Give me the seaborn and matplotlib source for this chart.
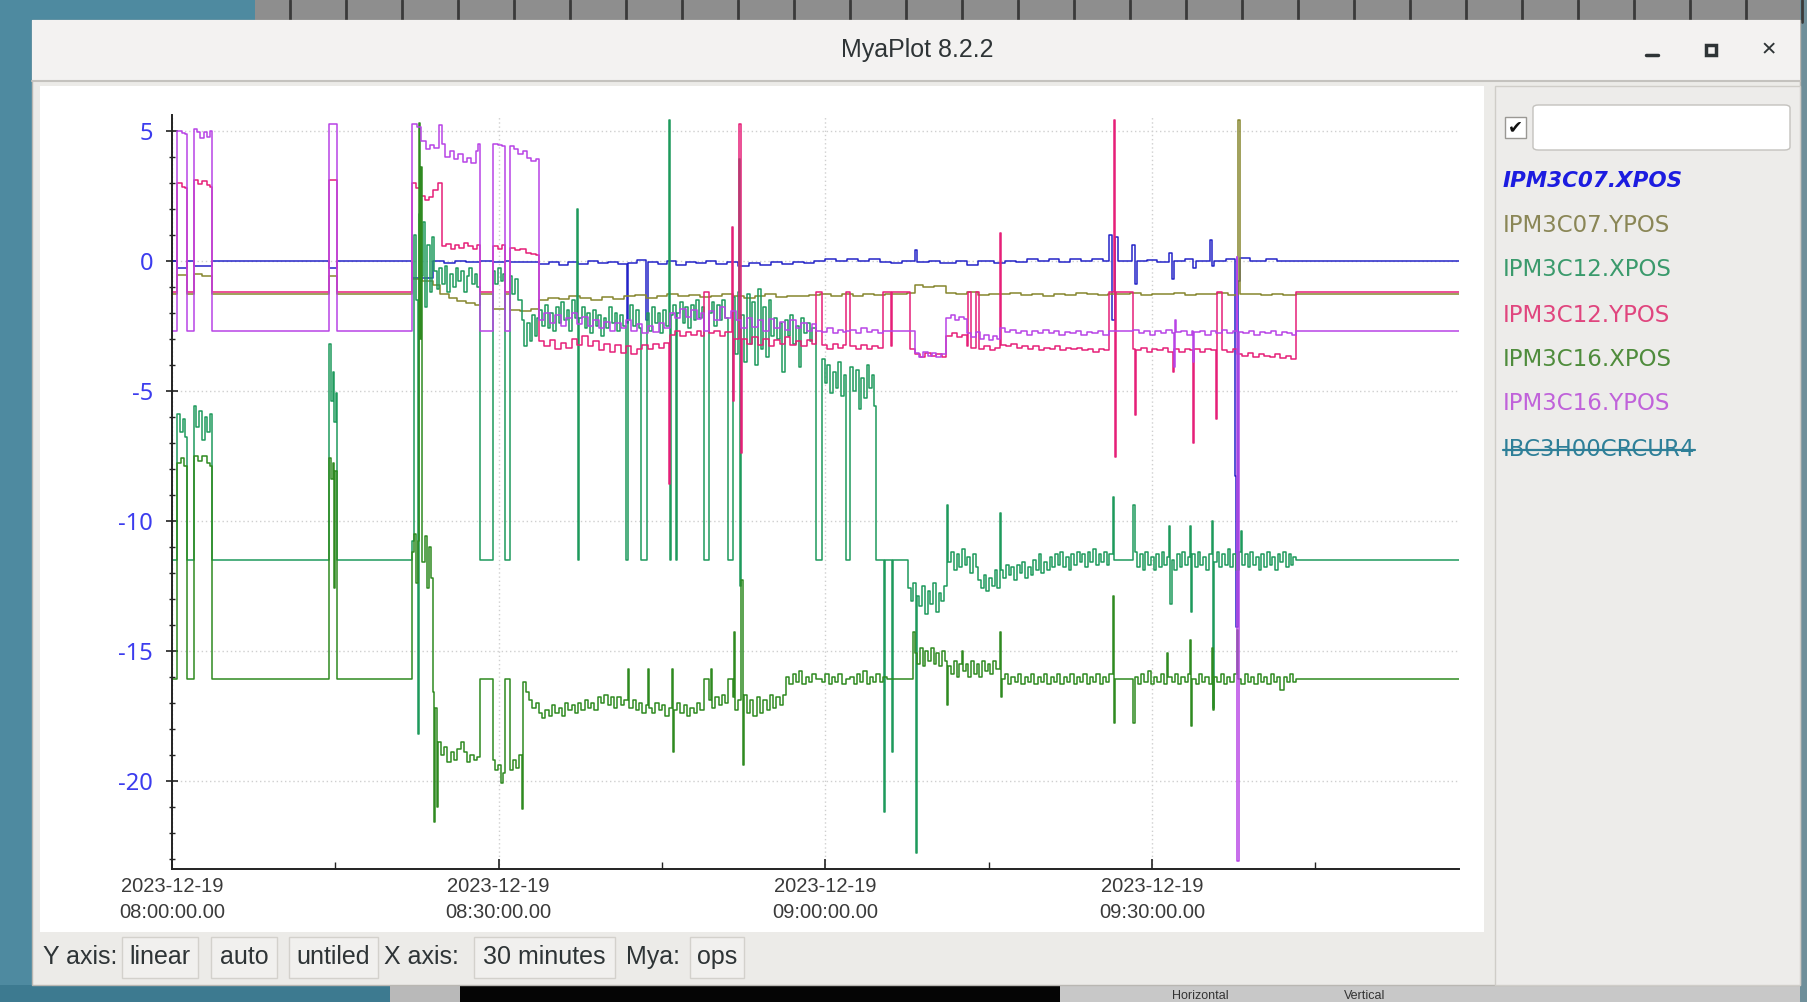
import numpy as np
import pandas as pd
import matplotlib
matplotlib.use("Agg")
import matplotlib.pyplot as plt
import matplotlib.dates as mdates
from matplotlib.patches import Rectangle, FancyBboxPatch
from matplotlib.lines import Line2D
from matplotlib.ticker import FixedLocator
import seaborn as sns

START = pd.Timestamp("2023-12-19 08:00:00")

# (minutes after 08:00, value)
ipm3c07_x = [
    (0.0, 0.0), (0.5, -0.28), (1.4, 0.0), (2.0, -0.22), (3.65, 0.0), (14.45, -0.3), (15.15, 0.0),
    (22.0, -0.65), (24.0, -0.02), (25.0, -0.08), (26.0, 0.0), (27.0, -0.06), (28.3, 0.0),
    (29.45, -0.05), (30.6, 0.0), (31.0, -0.04), (33.75, -0.12), (34.6, -0.05), (35.5, -0.15),
    (36.4, -0.05), (37.3, -0.12), (38.2, -0.02), (39.1, -0.1), (40.0, -0.04), (41.0, -0.12),
    (41.75, -2.4), (41.9, -0.08), (42.7, 0.02), (43.55, -2.3), (43.7, -0.05), (44.6, -0.12),
    (45.5, -0.02), (46.3, -0.15), (47.2, -0.05), (48.1, -0.1), (49.0, 0.0), (50.0, -0.12),
    (51.0, -0.05), (52.0, -0.2), (53.0, -0.08), (54.0, -0.15), (55.0, -0.05), (56.0, -0.12),
    (57.0, -0.04), (58.0, -0.1), (59.0, 0.0), (60.0, 0.05), (61.0, -0.02), (62.0, 0.06),
    (63.0, -0.03), (64.0, 0.05), (65.0, -0.04), (66.0, -0.1), (67.0, -0.02), (68.2, 0.4),
    (68.4, -0.05), (69.5, 0.0), (70.5, -0.08), (72.0, 0.0), (73.0, -0.15), (74.0, 0.0),
    (75.5, -0.1), (76.5, 0.0), (77.5, -0.05), (78.5, 0.08), (79.5, -0.02), (80.5, 0.06),
    (81.5, -0.04), (82.5, 0.05), (83.5, -0.03), (84.5, 0.06), (85.5, -0.02), (86.1, 1.0),
    (86.3, -2.3), (86.6, 0.9), (86.9, 0.0), (88.2, 0.6), (88.4, -0.9), (88.6, 0.0), (89.5, 0.04),
    (90.5, -0.05), (91.6, 0.3), (91.8, -0.7), (92.0, 0.0), (93.0, 0.05), (93.8, -0.3), (94.0, 0.0),
    (95.3, 0.8), (95.5, -0.2), (95.7, 0.0), (96.8, 0.05), (97.6, -8.3), (97.75, -14.1),
    (97.9, -0.8), (98.1, 0.1), (99.0, 0.0), (100.5, 0.05), (101.5, -0.02), (103.2, 0.0), (118.2, 0.0),
]

ipm3c07_y = [
    (0.0, -1.3), (0.5, -0.55), (1.4, -1.3), (2.0, -0.5), (2.8, -0.6), (3.65, -1.3), (14.45, -0.6),
    (15.15, -1.3), (22.0, -0.72), (23.0, -0.78), (24.0, -0.95), (24.6, -1.3), (25.4, -1.45),
    (26.2, -1.55), (27.0, -1.62), (27.8, -1.7), (28.3, -1.3), (29.45, -1.85), (30.6, -1.3),
    (31.0, -1.9), (32.0, -1.95), (33.0, -1.88), (33.75, -1.5), (34.5, -1.42), (35.5, -1.48),
    (36.5, -1.35), (37.5, -1.45), (38.5, -1.5), (39.5, -1.4), (40.5, -1.46), (41.5, -1.38),
    (42.5, -1.33), (43.5, -1.42), (44.5, -1.36), (45.5, -1.3), (46.5, -1.38), (47.5, -1.32),
    (48.5, -1.4), (49.5, -1.35), (50.5, -1.3), (51.5, -1.38), (52.5, -1.45), (53.5, -1.36),
    (54.5, -1.3), (55.5, -1.4), (56.5, -1.35), (57.5, -1.38), (58.5, -1.32), (59.5, -1.28),
    (60.5, -1.35), (61.5, -1.3), (62.5, -1.37), (63.5, -1.3), (64.5, -1.33), (65.5, -1.28),
    (66.5, -1.3), (67.5, -1.25), (68.2, -0.95), (69.0, -1.0), (70.0, -0.97), (71.1, -1.25),
    (72.0, -1.3), (73.0, -1.22), (74.0, -1.32), (75.0, -1.28), (76.0, -1.3), (77.0, -1.26),
    (78.0, -1.33), (79.0, -1.27), (80.0, -1.35), (81.0, -1.28), (82.0, -1.32), (83.0, -1.26),
    (84.0, -1.3), (85.0, -1.34), (86.0, -1.27), (87.0, -1.3), (88.0, -1.25), (89.0, -1.32),
    (90.0, -1.28), (91.0, -1.3), (92.0, -1.26), (93.0, -1.33), (94.0, -1.28), (95.0, -1.3),
    (96.0, -1.26), (97.0, -1.32), (97.9, 5.4), (98.05, -1.3), (99.0, -1.27), (100.0, -1.33),
    (101.0, -1.28), (102.0, -1.31), (103.2, -1.3), (118.2, -1.3),
]

ipm3c12_x = [
    (0.0, -11.5), (0.5, -5.9), (0.75, -6.6), (1.0, -6.1), (1.2, -6.8), (1.4, -11.5),
    (2.0, -5.6), (2.25, -6.4), (2.5, -5.8), (2.75, -6.9), (3.0, -6.0), (3.25, -6.6), (3.45, -5.9),
    (3.65, -11.5), (14.45, -3.2), (14.6, -5.4), (14.75, -4.3), (14.9, -6.2), (15.05, -5.1),
    (15.15, -11.5), (22.0, -10.8), (22.2, 1.0), (22.4, -1.5), (22.55, -18.2), (22.65, 1.8),
    (22.85, -0.6), (23.05, 1.5), (23.25, -1.8), (23.45, 0.6), (23.65, -1.2), (23.85, 0.9),
    (24.05, -0.4), (24.3, -1.1), (24.55, -0.3), (24.8, -0.9), (25.05, -0.2), (25.3, -1.2),
    (25.55, -0.5), (25.8, -1.0), (26.05, -0.3), (26.3, -0.8), (26.55, -0.4), (26.8, -1.2),
    (27.05, -0.6), (27.3, -0.3), (27.55, -0.9), (27.8, -0.5), (28.05, -1.0), (28.3, -11.5),
    (29.45, -0.4), (29.7, -0.9), (29.95, -0.3), (30.2, -0.8), (30.4, -0.5), (30.6, -11.5),
    (31.0, -0.6), (31.25, -1.3), (31.5, -0.7), (31.75, -1.5), (32.1, -2.3), (32.35, -3.3),
    (32.6, -2.4), (32.85, -3.1), (33.1, -2.1), (33.35, -2.9), (33.55, -2.2), (33.75, -1.9),
    (34.0, -2.5), (34.25, -1.7), (34.5, -2.6), (34.75, -2.0), (35.0, -2.7), (35.25, -1.8),
    (35.5, -2.4), (35.75, -1.6), (36.0, -2.3), (36.25, -1.9), (36.5, -2.7), (36.75, -1.5),
    (37.0, -2.2), (37.2, 2.0), (37.3, -11.5), (37.4, -2.2), (37.65, -1.8), (37.9, -2.6),
    (38.15, -2.0), (38.4, -2.8), (38.65, -1.9), (38.9, -2.5), (39.15, -2.1), (39.4, -2.9),
    (39.65, -2.2), (39.9, -2.6), (40.15, -1.8), (40.4, -2.4), (40.65, -2.0), (40.9, -2.7),
    (41.15, -2.1), (41.4, -2.5), (41.7, -11.5), (41.85, -2.3), (42.1, -1.7), (42.35, -2.5),
    (42.6, -1.9), (42.85, -2.6), (43.1, -11.5), (43.6, -2.0), (43.85, -2.7), (44.1, -1.8),
    (44.35, -2.4), (44.6, -2.0), (44.85, -2.8), (45.1, -1.9), (45.35, -2.5), (45.6, 5.4),
    (45.7, -11.5), (45.8, -2.1), (46.05, -1.7), (46.3, -11.5), (46.4, -2.0), (46.65, -1.6),
    (46.9, -2.4), (47.15, -1.8), (47.4, -2.6), (47.65, -1.7), (47.9, -2.3), (48.15, -1.5),
    (48.4, -2.2), (48.65, -1.8), (48.9, -11.5), (49.3, -2.0), (49.55, -1.6), (49.8, -2.5),
    (50.05, -1.7), (50.3, -2.3), (50.55, -1.5), (50.8, -2.2), (51.1, -11.5), (51.5, -1.4),
    (51.75, -3.6), (52.0, -1.2), (52.1, 3.9), (52.2, -12.5), (52.3, -2.1), (52.55, -3.9),
    (52.8, -1.3), (53.05, -3.2), (53.3, -1.6), (53.55, -4.0), (53.8, -1.1), (54.05, -3.4),
    (54.3, -1.8), (54.55, -3.7), (54.8, -1.5), (55.05, -2.9), (55.3, -2.2), (55.55, -3.0),
    (55.8, -2.4), (56.05, -4.3), (56.3, -2.3), (56.55, -2.9), (56.8, -2.1), (57.05, -3.2),
    (57.3, -2.5), (57.55, -4.1), (57.8, -2.2), (58.05, -2.8), (58.3, -2.4), (58.55, -3.1),
    (58.8, -2.6), (59.1, -11.5), (59.7, -3.8), (59.95, -4.7), (60.2, -4.0), (60.45, -5.1),
    (60.7, -4.3), (60.95, -4.9), (61.2, -3.9), (61.45, -5.2), (61.7, -4.4), (61.9, -11.5),
    (62.3, -4.1), (62.55, -5.0), (62.8, -4.2), (63.05, -5.7), (63.3, -4.5), (63.55, -5.3),
    (63.8, -4.0), (64.05, -4.9), (64.3, -4.4), (64.5, -5.6), (64.7, -11.5), (65.4, -21.2),
    (65.5, -11.5), (66.1, -18.9), (66.2, -11.5), (67.6, -12.6), (67.85, -13.1), (68.1, -12.4),
    (68.3, -22.8), (68.4, -12.9), (68.65, -13.3), (68.9, -12.5), (69.15, -13.6), (69.4, -12.7),
    (69.65, -13.2), (69.9, -12.4), (70.15, -13.5), (70.4, -12.8), (70.65, -13.1), (70.9, -12.5),
    (71.2, -9.4), (71.3, -11.6), (71.55, -11.2), (71.8, -11.9), (72.05, -11.3), (72.3, -11.8),
    (72.55, -11.1), (72.8, -11.7), (73.05, -11.4), (73.3, -12.0), (73.55, -11.3), (73.8, -11.8),
    (74.05, -12.3), (74.3, -12.6), (74.55, -12.1), (74.8, -12.7), (75.05, -12.2), (75.3, -12.5),
    (75.55, -11.9), (75.8, -12.6), (76.0, -9.7), (76.1, -11.9), (76.35, -12.2), (76.6, -11.7),
    (76.85, -12.1), (77.1, -11.8), (77.35, -12.3), (77.6, -11.7), (77.85, -12.0), (78.1, -11.6),
    (78.35, -12.2), (78.6, -11.8), (78.85, -12.1), (79.1, -11.5), (79.35, -11.9), (79.6, -11.3),
    (79.85, -12.0), (80.1, -11.6), (80.35, -11.9), (80.6, -11.4), (80.85, -11.8), (81.1, -11.3),
    (81.35, -11.7), (81.6, -11.2), (81.85, -11.8), (82.1, -11.4), (82.35, -11.9), (82.6, -11.3),
    (82.85, -11.7), (83.1, -11.2), (83.35, -11.6), (83.6, -11.3), (83.85, -11.8), (84.1, -11.2),
    (84.35, -11.6), (84.6, -11.1), (84.85, -11.7), (85.1, -11.3), (85.35, -11.6), (85.6, -11.2),
    (85.85, -11.7), (86.1, -11.3), (86.4, -9.1), (86.5, -11.5), (88.3, -9.4), (88.4, -11.2),
    (88.65, -11.8), (88.9, -11.3), (89.15, -11.9), (89.4, -11.2), (89.65, -11.7), (89.9, -11.4),
    (90.15, -11.9), (90.4, -11.3), (90.65, -11.8), (90.9, -11.2), (91.15, -11.7), (91.4, -11.4),
    (91.6, -10.2), (91.7, -13.2), (91.8, -11.5), (92.05, -11.9), (92.3, -11.3), (92.55, -11.8),
    (92.8, -11.2), (93.05, -11.7), (93.3, -11.4), (93.5, -10.2), (93.6, -13.5), (93.7, -11.3),
    (93.95, -11.8), (94.2, -11.2), (94.45, -11.7), (94.7, -11.4), (94.95, -11.9), (95.2, -11.3),
    (95.5, -10.0), (95.6, -17.2), (95.7, -11.6), (95.95, -11.2), (96.2, -11.8), (96.45, -11.3),
    (96.7, -11.7), (96.95, -11.1), (97.2, -11.8), (97.45, -11.3), (97.7, -11.9), (97.95, -11.2),
    (98.2, -10.4), (98.3, -11.7), (98.55, -11.3), (98.8, -11.8), (99.05, -11.2), (99.3, -11.7),
    (99.55, -11.4), (99.8, -11.9), (100.05, -11.3), (100.3, -11.8), (100.55, -11.2), (100.8, -11.7),
    (101.05, -11.4), (101.3, -11.9), (101.55, -11.3), (101.8, -11.6), (102.05, -11.2), (102.3, -11.8),
    (102.55, -11.3), (102.8, -11.7), (103.0, -11.4), (103.2, -11.5), (118.2, -11.5),
]

ipm3c12_y = [
    (0.0, -1.2), (0.5, 3.0), (0.9, 2.85), (1.2, 2.8), (1.4, -1.2), (2.0, 3.1), (2.4, 2.95),
    (2.8, 3.05), (3.2, 2.9), (3.45, 2.85), (3.65, -1.2), (14.45, 3.1), (15.15, -1.2),
    (22.0, 3.0), (22.4, 2.8), (22.8, 2.5), (23.2, 2.35), (23.6, 2.45), (24.0, 2.7), (24.4, 3.0),
    (24.8, 0.55), (25.2, 0.65), (25.6, 0.45), (26.0, 0.6), (26.4, 0.5), (26.8, 0.68), (27.2, 0.55),
    (27.6, 0.45), (28.0, 0.6), (28.3, -1.2), (29.45, 0.55), (29.9, 0.45), (30.3, 0.6), (30.6, -1.2),
    (31.0, 0.5), (31.5, 0.4), (32.0, 0.45), (32.5, 0.3), (33.0, 0.25), (33.4, 0.2),
    (33.75, -3.1), (34.2, -3.3), (34.7, -3.05), (35.2, -3.4), (35.7, -3.15), (36.2, -3.35),
    (36.7, -3.0), (37.2, -3.25), (37.7, -2.9), (38.2, -3.3), (38.7, -3.1), (39.2, -3.45),
    (39.7, -3.2), (40.2, -3.5), (40.7, -3.25), (41.2, -3.55), (41.7, -3.3), (42.2, -3.6),
    (42.7, -3.4), (43.2, -3.25), (43.7, -3.4), (44.2, -3.2), (44.7, -3.35), (45.2, -3.15),
    (45.6, -8.6), (45.7, -2.85), (46.2, -2.7), (46.7, -2.9), (47.2, -2.75), (47.7, -2.85),
    (48.2, -2.7), (48.6, -2.9), (48.9, -1.2), (49.3, -2.8), (49.8, -2.7), (50.3, -2.9),
    (50.8, -2.75), (51.4, 1.3), (51.5, -5.4), (51.6, -3.0), (52.1, 5.25), (52.25, -7.4),
    (52.35, -3.0), (52.8, -3.2), (53.3, -2.95), (53.8, -3.25), (54.3, -3.0), (54.8, -3.3),
    (55.3, -3.05), (55.8, -3.2), (56.3, -2.95), (56.8, -3.25), (57.3, -3.1), (57.8, -3.3),
    (58.3, -3.05), (58.8, -3.2), (59.1, -1.2), (59.7, -3.25), (60.2, -3.4), (60.7, -3.2),
    (61.2, -3.35), (61.6, -3.25), (61.9, -1.2), (62.3, -3.3), (62.8, -3.4), (63.3, -3.25),
    (63.8, -3.4), (64.3, -3.3), (64.8, -3.35), (65.3, -1.2), (66.0, -3.3), (66.1, -1.2),
    (67.8, -3.4), (68.2, -3.6), (68.7, -3.7), (69.2, -3.55), (69.7, -3.65), (70.2, -3.6),
    (70.7, -3.7), (71.1, -2.9), (71.6, -2.8), (72.1, -2.95), (72.6, -2.85), (73.0, -3.3),
    (73.1, -1.2), (73.35, -3.35), (73.8, -1.2), (74.1, -3.4), (74.6, -3.3), (75.1, -3.45),
    (75.6, -3.35), (76.0, 1.07), (76.1, -3.25), (76.6, -3.3), (77.1, -3.2), (77.6, -3.35),
    (78.1, -3.3), (78.6, -3.4), (79.1, -3.3), (79.6, -3.45), (80.1, -3.35), (80.6, -3.4),
    (81.1, -3.3), (81.6, -3.45), (82.1, -3.35), (82.6, -3.4), (83.1, -3.35), (83.6, -3.45),
    (84.1, -3.4), (84.6, -3.5), (85.1, -3.4), (85.6, -3.45), (86.1, -1.2), (86.5, 5.4),
    (86.6, -7.55), (86.7, -1.2), (88.3, -3.4), (88.4, -5.95), (88.5, -3.45), (89.0, -3.35),
    (89.5, -3.5), (90.0, -3.4), (90.5, -3.45), (91.0, -3.35), (91.5, -3.5), (91.9, -4.3),
    (92.05, -3.4), (92.5, -3.5), (93.0, -3.4), (93.5, -3.45), (93.8, -7.0), (93.9, -3.4),
    (94.4, -3.5), (94.9, -3.4), (95.4, -3.45), (95.9, -6.1), (96.0, -1.2), (96.4, -3.45),
    (96.9, -3.5), (97.4, -3.4), (97.8, -3.6), (98.3, -3.65), (98.8, -3.55), (99.3, -3.7),
    (99.8, -3.6), (100.3, -3.65), (100.8, -3.7), (101.3, -3.6), (101.8, -3.75), (102.3, -3.65),
    (102.8, -3.8), (103.2, -1.2), (118.2, -1.2),
]

ipm3c16_x = [
    (0.0, -16.1), (0.5, -7.8), (0.8, -7.6), (1.1, -7.9), (1.4, -16.1), (2.0, -7.5), (2.4, -7.7),
    (2.8, -7.5), (3.2, -7.8), (3.45, -7.9), (3.65, -16.1), (14.45, -7.6), (14.6, -8.4),
    (14.75, -7.8), (14.9, -12.6), (15.0, -8.1), (15.15, -16.1), (22.0, -11.2), (22.2, -10.5),
    (22.4, -12.4), (22.6, -10.8), (22.7, 5.3), (22.8, -3.0), (22.9, 3.6), (23.0, -11.6),
    (23.2, -10.6), (23.4, -12.6), (23.6, -11.0), (23.8, -12.2), (24.0, -16.6), (24.1, -21.6),
    (24.2, -17.2), (24.3, -21.0), (24.4, -18.5), (24.7, -19.0), (25.0, -18.7), (25.3, -19.3),
    (25.6, -18.9), (25.9, -19.2), (26.2, -18.8), (26.5, -18.5), (26.8, -18.9), (27.1, -19.3),
    (27.4, -19.0), (27.7, -19.2), (28.0, -19.1), (28.3, -16.1), (29.45, -19.2), (29.7, -19.6),
    (29.95, -19.4), (30.2, -20.1), (30.4, -19.7), (30.6, -16.1), (31.0, -19.6), (31.3, -19.2),
    (31.6, -19.5), (31.85, -19.0), (32.1, -21.1), (32.2, -16.2), (32.5, -16.6), (32.8, -16.9),
    (33.1, -17.2), (33.4, -17.0), (33.7, -17.4), (34.0, -17.6), (34.3, -17.3), (34.6, -17.5),
    (34.9, -17.1), (35.2, -17.4), (35.5, -17.2), (35.8, -17.5), (36.1, -17.0), (36.4, -17.3),
    (36.7, -17.1), (37.0, -17.4), (37.3, -17.0), (37.6, -17.3), (37.9, -16.9), (38.2, -17.2),
    (38.5, -17.0), (38.8, -17.3), (39.1, -16.8), (39.4, -17.0), (39.7, -16.7), (40.0, -17.1),
    (40.3, -16.8), (40.6, -17.2), (40.9, -16.8), (41.2, -17.1), (41.5, -16.9), (41.9, -15.7),
    (42.0, -17.2), (42.3, -16.9), (42.6, -17.3), (42.9, -17.0), (43.2, -17.4), (43.5, -17.1),
    (43.7, -15.7), (43.8, -17.2), (44.1, -17.4), (44.4, -17.0), (44.7, -17.3), (45.0, -17.1),
    (45.3, -17.5), (45.6, -17.2), (45.9, -15.7), (46.0, -18.9), (46.1, -17.3), (46.4, -17.0),
    (46.7, -17.4), (47.0, -17.1), (47.3, -17.5), (47.6, -17.2), (47.9, -17.4), (48.2, -17.0),
    (48.5, -17.3), (48.9, -16.1), (49.3, -16.9), (49.5, -15.7), (49.6, -17.2), (49.9, -16.8),
    (50.2, -17.1), (50.5, -16.7), (50.8, -17.0), (51.1, -16.1), (51.5, -16.8), (51.6, -14.3),
    (51.7, -17.3), (52.0, -16.9), (52.3, -12.3), (52.4, -19.4), (52.5, -16.7), (52.8, -17.4),
    (53.1, -16.9), (53.4, -17.5), (53.7, -16.8), (54.0, -17.4), (54.3, -16.9), (54.6, -17.3),
    (54.9, -16.7), (55.2, -17.2), (55.5, -16.8), (55.8, -17.1), (56.1, -16.7), (56.4, -16.0),
    (56.7, -16.3), (57.0, -15.9), (57.3, -16.2), (57.6, -15.8), (57.9, -16.3), (58.2, -16.0),
    (58.5, -16.2), (58.8, -15.9), (59.1, -16.1), (59.7, -16.2), (60.0, -15.9), (60.3, -16.3),
    (60.6, -16.0), (60.9, -16.2), (61.2, -15.9), (61.5, -16.3), (61.9, -16.1), (62.3, -16.0),
    (62.6, -16.3), (62.9, -15.9), (63.2, -16.2), (63.5, -15.8), (63.8, -16.3), (64.1, -16.0),
    (64.4, -16.2), (64.7, -15.9), (65.0, -16.2), (65.3, -16.0), (65.7, -16.1), (68.1, -14.3),
    (68.2, -15.1), (68.45, -15.5), (68.7, -14.9), (68.95, -15.6), (69.2, -15.0), (69.45, -15.4),
    (69.7, -14.9), (69.95, -15.5), (70.2, -15.1), (70.45, -15.6), (70.7, -15.0), (70.95, -15.4),
    (71.2, -17.1), (71.3, -15.6), (71.55, -15.9), (71.8, -15.4), (72.05, -16.0), (72.3, -15.5),
    (72.55, -15.0), (72.65, -15.8), (72.9, -15.5), (73.15, -16.0), (73.4, -15.4), (73.65, -15.9),
    (73.9, -15.5), (74.15, -16.0), (74.4, -15.4), (74.65, -15.8), (74.9, -15.5), (75.15, -15.9),
    (75.4, -15.4), (75.65, -15.7), (76.0, -14.3), (76.1, -16.8), (76.2, -16.1), (76.5, -15.9),
    (76.8, -16.3), (77.1, -16.0), (77.4, -16.2), (77.7, -15.9), (78.0, -16.3), (78.3, -16.0),
    (78.6, -16.2), (78.9, -15.9), (79.2, -16.3), (79.5, -16.0), (79.8, -16.2), (80.1, -15.9),
    (80.4, -16.3), (80.7, -16.0), (81.0, -16.2), (81.3, -15.9), (81.6, -16.3), (81.9, -16.0),
    (82.2, -16.2), (82.5, -15.9), (82.8, -16.3), (83.1, -16.0), (83.4, -16.2), (83.7, -15.9),
    (84.0, -16.3), (84.3, -16.0), (84.6, -16.2), (84.9, -15.9), (85.2, -16.3), (85.5, -16.0),
    (85.8, -16.2), (86.1, -15.9), (86.4, -12.9), (86.5, -17.8), (86.6, -16.1), (88.3, -17.8),
    (88.4, -16.0), (88.7, -16.3), (89.0, -15.9), (89.3, -16.2), (89.6, -15.8), (89.9, -16.3),
    (90.2, -16.0), (90.5, -16.2), (90.8, -15.9), (91.1, -16.3), (91.4, -15.1), (91.5, -16.0),
    (91.8, -16.2), (92.1, -15.9), (92.4, -16.3), (92.7, -16.0), (93.0, -16.2), (93.3, -15.9),
    (93.5, -14.6), (93.6, -17.9), (93.7, -16.1), (94.0, -16.3), (94.3, -15.9), (94.6, -16.2),
    (94.9, -16.0), (95.2, -16.3), (95.5, -14.9), (95.6, -17.3), (95.7, -16.0), (96.0, -16.2),
    (96.3, -15.9), (96.6, -16.3), (96.9, -16.0), (97.2, -16.2), (97.5, -15.9), (97.8, -14.2),
    (97.9, -16.1), (98.2, -16.3), (98.5, -15.9), (98.8, -16.2), (99.1, -16.0), (99.4, -16.3),
    (99.7, -15.9), (100.0, -16.2), (100.3, -16.0), (100.6, -16.3), (100.9, -15.9), (101.2, -16.2),
    (101.5, -16.0), (101.8, -16.5), (102.1, -16.0), (102.4, -16.2), (102.7, -15.9), (103.0, -16.2),
    (103.2, -16.1), (118.2, -16.1),
]

ipm3c16_y = [
    (0.0, -2.7), (0.5, 4.97), (0.9, 4.9), (1.2, 4.86), (1.4, -2.7), (2.0, 5.06), (2.3, 4.95),
    (2.6, 4.7), (2.9, 4.95), (3.2, 4.75), (3.45, 5.0), (3.65, -2.7), (14.45, 5.25), (15.15, -2.7),
    (22.0, 5.25), (22.5, 5.15), (22.9, 4.6), (23.3, 4.3), (23.7, 4.45), (24.1, 4.35), (24.5, 5.2),
    (24.8, 4.5), (25.1, 4.0), (25.5, 4.2), (25.9, 3.9), (26.3, 4.1), (26.7, 3.8), (27.1, 3.95),
    (27.5, 3.75), (27.9, 4.2), (28.1, 4.5), (28.3, -2.7), (29.45, 4.5), (29.9, 4.45), (30.3, 4.4),
    (30.6, -2.7), (31.0, 4.4), (31.4, 4.3), (31.8, 4.1), (32.2, 4.2), (32.6, 3.95), (33.0, 3.85),
    (33.4, 3.9), (33.75, -2.3), (34.2, -2.0), (34.7, -2.4), (35.2, -2.1), (35.7, -2.5),
    (36.2, -2.2), (36.7, -2.0), (37.2, -2.45), (37.7, -2.15), (38.2, -2.5), (38.7, -2.3),
    (39.2, -2.6), (39.7, -2.35), (40.2, -2.7), (40.7, -2.4), (41.2, -2.6), (41.7, -2.3),
    (42.2, -2.7), (42.7, -2.45), (43.2, -2.8), (43.7, -2.5), (44.2, -2.75), (44.7, -2.4),
    (45.2, -2.6), (45.7, -2.0), (46.2, -2.2), (46.7, -1.85), (47.2, -2.15), (47.7, -1.9),
    (48.2, -2.25), (48.6, -2.0), (48.9, -2.7), (49.3, -1.95), (49.8, -2.3), (50.3, -1.8),
    (50.8, -2.2), (51.3, -1.95), (51.8, -2.3), (52.3, -2.6), (52.8, -2.2), (53.3, -2.55),
    (53.8, -2.3), (54.3, -2.7), (54.8, -2.25), (55.3, -2.6), (55.8, -2.35), (56.3, -2.65),
    (56.8, -2.3), (57.3, -2.6), (57.8, -2.4), (58.3, -2.7), (58.8, -2.45), (59.1, -2.7),
    (59.7, -2.75), (60.2, -2.6), (60.7, -2.8), (61.2, -2.65), (61.6, -2.75), (61.9, -2.7),
    (62.3, -2.65), (62.8, -2.8), (63.3, -2.6), (63.8, -2.75), (64.3, -2.65), (64.8, -2.8),
    (65.3, -2.7), (68.2, -3.55), (68.6, -3.7), (69.0, -3.5), (69.4, -3.65), (69.8, -3.55),
    (70.2, -3.7), (70.6, -3.6), (71.1, -2.2), (71.5, -2.1), (71.9, -2.3), (72.3, -2.15),
    (72.7, -2.25), (73.0, -2.8), (73.4, -2.95), (73.8, -2.75), (74.2, -3.0), (74.6, -2.85),
    (75.0, -3.05), (75.4, -2.9), (75.8, -3.0), (76.0, -2.6), (76.5, -2.75), (77.0, -2.65),
    (77.5, -2.8), (78.0, -2.7), (78.5, -2.85), (79.0, -2.7), (79.5, -2.8), (80.0, -2.65),
    (80.5, -2.8), (81.0, -2.7), (81.5, -2.85), (82.0, -2.75), (82.5, -2.8), (83.0, -2.7),
    (83.5, -2.85), (84.0, -2.75), (84.5, -2.8), (85.0, -2.7), (85.5, -2.85), (86.1, -2.7),
    (88.3, -2.65), (88.8, -2.8), (89.3, -2.7), (89.8, -2.85), (90.3, -2.7), (90.8, -2.8),
    (91.3, -2.65), (91.8, -2.8), (92.0, -4.1), (92.1, -2.3), (92.2, -2.75), (92.7, -2.7),
    (93.2, -2.85), (93.7, -2.7), (93.8, -3.9), (93.9, -2.75), (94.4, -2.7), (94.9, -2.85),
    (95.4, -2.7), (95.9, -2.8), (96.4, -2.65), (96.9, -2.8), (97.4, -2.7), (97.8, 0.15),
    (97.85, -23.1), (97.95, -2.75), (98.4, -2.8), (98.9, -2.7), (99.4, -2.85), (99.9, -2.75),
    (100.4, -2.8), (100.9, -2.7), (101.4, -2.85), (101.9, -2.75), (102.4, -2.8), (102.9, -2.85),
    (103.2, -2.7), (118.2, -2.7),
]

pv_names = ["IPM3C07.XPOS", "IPM3C07.YPOS", "IPM3C12.XPOS", "IPM3C12.YPOS",
            "IPM3C16.XPOS", "IPM3C16.YPOS", "IBC3H00CRCUR4"]
line_colors = ["#2424c8", "#86862e", "#1e9a5c", "#e61f78", "#2f8a20", "#b844e6"]
text_colors = ["#1c1ce0", "#8a8656", "#3a9a6c", "#e0457e", "#4f8c3c", "#c062da", "#2e7f98"]
xtick_minutes = [0, 30, 60, 90]
xminor_minutes = [15, 45, 75, 105]
ytick_values = [5, 0, -5, -10, -15, -20]
toolbar_labels = [("Y axis:", 43), ("X axis:", 384), ("Mya:", 626)]
toolbar_boxes = [("linear", 122, 198), ("auto", 211, 277), ("untiled", 289, 378),
                 ("30 minutes", 474, 615), ("ops", 690, 744)]

W, H = 1808, 1002
sns.set_theme(style="white")
plt.rcParams["font.family"] = ["Noto Sans", "DejaVu Sans"]
NARROW = ["Liberation Sans", "DejaVu Sans"]

fig = plt.figure(figsize=(W / 100, H / 100), dpi=100, facecolor="#4e8aa0")


def box(x0, y0, x1, y1, **kw):
    # rectangle in screenshot pixels, origin top-left
    kw.setdefault("zorder", -5)
    r = Rectangle((x0 / W, 1 - y1 / H), (x1 - x0) / W, (y1 - y0) / H,
                  transform=fig.transFigure, **kw)
    fig.add_artist(r)
    return r


def label(x, y, s, **kw):
    kw.setdefault("zorder", 6)
    return fig.text(x / W, 1 - y / H, s, **kw)


def hline(x0, x1, y, **kw):
    kw.setdefault("zorder", -4)
    fig.add_artist(Line2D([x0 / W, x1 / W], [1 - y / H, 1 - y / H], transform=fig.transFigure, **kw))


def vline(x, y0, y1, **kw):
    kw.setdefault("zorder", -4)
    fig.add_artist(Line2D([x / W, x / W], [1 - y0 / H, 1 - y1 / H], transform=fig.transFigure, **kw))


# desktop behind the window
box(255, 0, W, 22, facecolor="#8e8e8e", lw=0, zorder=-9)
for xs in np.arange(290, W, 56):
    vline(xs, 0, 22, color="#3a3a3a", lw=2, zorder=-8)
box(0, 985, 390, H, facecolor="#3d7a90", lw=0, zorder=-9)
box(390, 985, 460, H, facecolor="#b9b9b9", lw=0, zorder=-9)
box(460, 985, 1060, H, facecolor="#050505", lw=0, zorder=-9)
box(1060, 985, 1800, H, facecolor="#c8c8c8", lw=0, zorder=-9)
label(1200, 996, "Horizontal", fontsize=9, color="#333333", ha="center", va="center", family=NARROW)
label(1365, 996, "Vertical", fontsize=9, color="#333333", ha="center", va="center", family=NARROW)
box(1800, 0, W, H, facecolor="#6f8f9a", lw=0, zorder=-9)

# window
box(32, 20, 1800, 985, facecolor="#ecebe8", edgecolor="#b9b7b2", lw=1, zorder=-7)
box(32, 20, 1800, 81, facecolor="#f3f2f1", lw=0, zorder=-6)
hline(32, 1800, 81, color="#c4c2be", lw=1.5)
label(917, 50, "MyaPlot 8.2.2", fontsize=18, color="#2e3436", ha="center", va="center", family=NARROW)
hline(1646, 1658, 55, color="#2e3436", lw=2.5, zorder=6)
box(1706, 45, 1716, 55, facecolor="none", edgecolor="#2e3436", lw=2.5, zorder=6)
label(1769, 50, "\u2715", fontsize=14, color="#2e3436", ha="center", va="center", family="DejaVu Sans",
      fontweight="bold")

# plot panel and pv list panel
box(40, 86, 1484, 932, facecolor="white", lw=0)
box(1495, 86, 1800, 985, facecolor="#edecea", edgecolor="#cfcdc8", lw=1)
box(1505, 117, 1526, 138, facecolor="white", edgecolor="#9a9894", lw=1, zorder=-3)
label(1515.5, 127.5, "\u2714", fontsize=13, color="#111111", ha="center", va="center", family="DejaVu Sans")
fig.add_artist(FancyBboxPatch((1533 / W, 1 - 150 / H), (1790 - 1533) / W, (150 - 105) / H,
                              boxstyle="round,pad=0,rounding_size=0.003", transform=fig.transFigure,
                              facecolor="white", edgecolor="#c4c2be", lw=1, zorder=-3))

legend_y = [181, 226, 270, 315, 359, 404, 449]
for i, (name, col, ly) in enumerate(zip(pv_names, text_colors, legend_y)):
    kw = dict(fontsize=16.5, color=col, ha="left", va="center", family="DejaVu Sans")
    if i == 0:
        kw.update(fontweight="bold", style="italic", fontsize=15.5)
    t = label(1503, ly, name, **kw)
    if name == "IBC3H00CRCUR4":
        fig.canvas.draw()
        bb = t.get_window_extent()
        hline(1503, 1503 + bb.width, ly + 1, color=col, lw=1.6, zorder=7)

# toolbar at the bottom of the window
for text, x in toolbar_labels:
    label(x, 957, text, fontsize=18, color="#2e3436", ha="left", va="center", family=NARROW)
for text, x0, x1 in toolbar_boxes:
    box(x0, 937, x1, 978, facecolor="#f1f0ee", edgecolor="#d3d1cc", lw=1, zorder=-3)
    label((x0 + x1) / 2, 957, text, fontsize=18, color="#2e3436", ha="center", va="center", family=NARROW)

# chart
ax = fig.add_axes([172 / W, 1 - 869 / H, (1459 - 172) / W, (869 - 115) / H])
ax.set_facecolor("white")
for pts, col in zip([ipm3c07_x, ipm3c07_y, ipm3c12_x, ipm3c12_y, ipm3c16_x, ipm3c16_y], line_colors):
    df = pd.DataFrame(pts, columns=["minute", "value"])
    df["time"] = START + pd.to_timedelta(df["minute"], unit="min")
    sns.lineplot(data=df, x="time", y="value", ax=ax, color=col, lw=1.1, drawstyle="steps-post",
                 estimator=None, sort=False, legend=False)

ax.set_xlim(START, START + pd.Timedelta(minutes=118.2))
ax.set_ylim(-23.4, 5.6)
ax.set_xlabel("")
ax.set_ylabel("")

xt = [START + pd.Timedelta(minutes=m) for m in xtick_minutes]
ax.set_xticks(mdates.date2num(pd.to_datetime(xt).to_pydatetime()))
ax.set_xticklabels([f"{t:%Y-%m-%d}\n{t:%H:%M:%S}.00" for t in xt], family=NARROW, fontsize=14.5,
                   color="#3a3a3a", linespacing=1.45)
xm = [START + pd.Timedelta(minutes=m) for m in xminor_minutes]
ax.xaxis.set_minor_locator(FixedLocator(mdates.date2num(pd.to_datetime(xm).to_pydatetime())))
ax.set_yticks(ytick_values)
ax.set_yticklabels([str(v) for v in ytick_values], fontsize=17, color="#3c3cee")
ax.yaxis.set_minor_locator(FixedLocator(np.arange(-23, 6, 1)))

ax.tick_params(axis="both", which="both", bottom=True, left=True, colors="#222222")
ax.tick_params(axis="x", which="major", direction="in", length=7, width=1.2, pad=6)
ax.tick_params(axis="x", which="minor", direction="in", length=5, width=1.0)
ax.tick_params(axis="y", which="major", direction="inout", length=9, width=1.2, pad=9)
ax.tick_params(axis="y", which="minor", direction="inout", length=5, width=1.0)
for lab in ax.get_yticklabels():
    lab.set_color("#3c3cee")
for lab in ax.get_xticklabels():
    lab.set_color("#3a3a3a")

ax.grid(True, which="major", color="#cfcfcf", lw=1.0, ls=(0, (1, 2)))
for side in ["top", "right"]:
    ax.spines[side].set_visible(False)
for side in ["left", "bottom"]:
    ax.spines[side].set_color("#222222")
    ax.spines[side].set_linewidth(1.4)

fig.savefig("out.png", dpi=100, facecolor=fig.get_facecolor())
